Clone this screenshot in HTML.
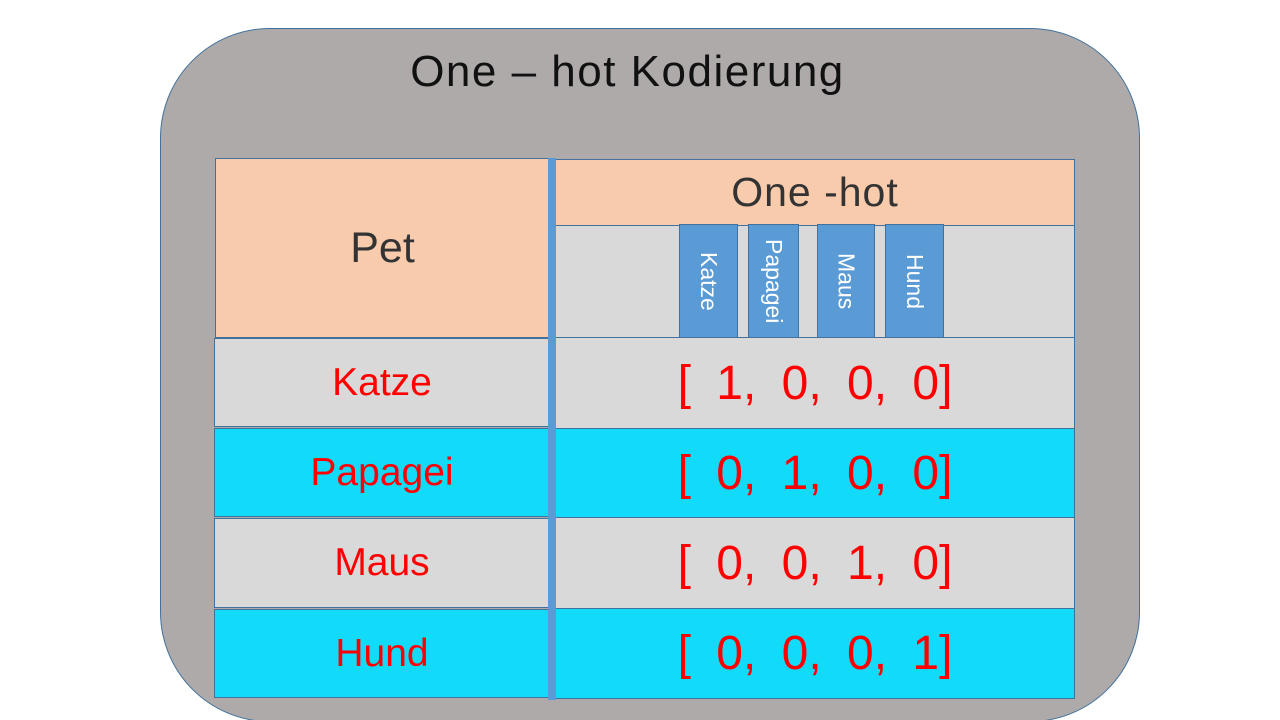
<!DOCTYPE html>
<html><head><meta charset="utf-8"><style>
html,body{margin:0;width:1280px;height:720px;overflow:hidden}
body{background:#fff;position:relative;font-family:"Liberation Sans","DejaVu Sans",sans-serif}
.a{position:absolute;box-sizing:border-box}
.c{display:flex;align-items:center;justify-content:center}
.bd{border:1.5px solid #41719c}
.red{color:#f00}
.v{position:absolute;box-sizing:border-box;background:#5b9bd5;border:1.5px solid #41719c;color:#fff;font-size:23px;writing-mode:vertical-rl;display:flex;align-items:center;justify-content:center}
.vec{font-size:48px;word-spacing:12px}
</style></head><body>
<div class="a" style="left:160px;top:28px;width:980px;height:694px;background:#aeaaaa;border:1.5px solid #41719c;border-radius:110px"></div>
<div class="a c" style="left:160px;top:44px;width:935px;height:56px;font-size:44px;letter-spacing:1.5px;color:#111">One – hot Kodierung</div>

<div class="a c bd" style="left:215px;top:158px;width:335px;height:180px;background:#f8cbad;font-size:43px;color:#333">Pet</div>
<div class="a c bd red" style="left:214px;top:338px;width:336px;height:89px;background:#d9d9d9;font-size:39px">Katze</div>
<div class="a c bd red" style="left:214px;top:428px;width:336px;height:89px;background:#11dbf8;font-size:39px">Papagei</div>
<div class="a c bd red" style="left:214px;top:518px;width:336px;height:90px;background:#d9d9d9;font-size:39px">Maus</div>
<div class="a c bd red" style="left:214px;top:609px;width:336px;height:89px;background:#11dbf8;font-size:39px">Hund</div>

<div class="a c bd" style="left:555px;top:159px;width:520px;height:67px;background:#f8cbad;font-size:41px;letter-spacing:1px;color:#333">One -hot</div>
<div class="a bd" style="left:555px;top:225px;width:520px;height:113px;background:#d9d9d9"></div>
<div class="v" style="left:679px;top:224px;width:59px;height:114px">Katze</div>
<div class="v" style="left:748px;top:224px;width:51px;height:114px">Papagei</div>
<div class="v" style="left:817px;top:224px;width:58px;height:114px">Maus</div>
<div class="v" style="left:885px;top:224px;width:59px;height:114px">Hund</div>

<div class="a c bd red vec" style="left:555px;top:337px;width:520px;height:92px;background:#d9d9d9">[ 1, 0, 0, 0]</div>
<div class="a c bd red vec" style="left:555px;top:428px;width:520px;height:90px;background:#11dbf8">[ 0, 1, 0, 0]</div>
<div class="a c bd red vec" style="left:555px;top:517px;width:520px;height:92px;background:#d9d9d9">[ 0, 0, 1, 0]</div>
<div class="a c bd red vec" style="left:555px;top:608px;width:520px;height:91px;background:#11dbf8">[ 0, 0, 0, 1]</div>

<div class="a" style="left:548px;top:158px;width:8px;height:542px;background:#5b9bd5"></div>
</body></html>
